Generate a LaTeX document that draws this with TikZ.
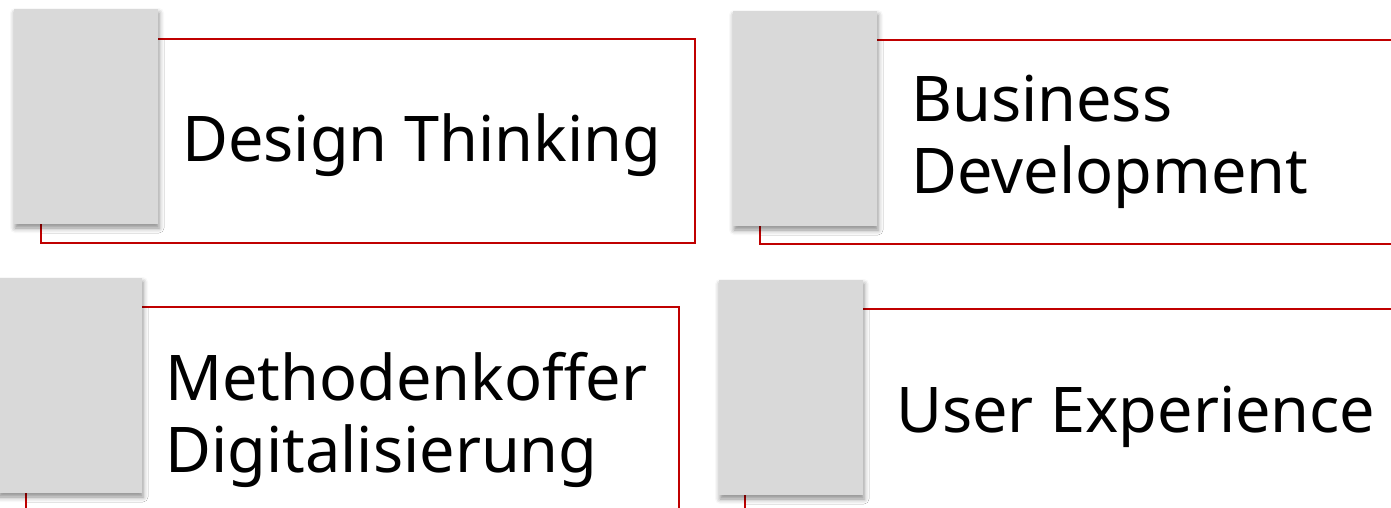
\documentclass[tikz,border=0pt]{standalone}
\usepackage{fontspec}
\setmainfont{Noto Sans}
\usetikzlibrary{shadows.blur}
\definecolor{frame}{HTML}{C00000}
\definecolor{tile}{HTML}{D9D9D9}
\begin{document}
\begin{tikzpicture}[x=1pt,y=-1pt,
  redframe/.style={draw=frame,line width=2.2pt,fill=white},
  tilebox/.style={fill=tile,blur shadow={shadow xshift=1pt,shadow yshift=-4pt,shadow blur radius=5pt,shadow opacity=45}},
  label/.style={anchor=base west,inner sep=0pt,align=left,font=\fontsize{63}{72}\selectfont}]
\useasboundingbox (0,0) rectangle (1391,507);
% frames
\draw[redframe] (41,39) rectangle (695,243);
\draw[redframe] (760,40) rectangle (1410,244);
\draw[redframe] (26,307) rectangle (679,530);
\draw[redframe] (745,309) rectangle (1410,530);
% tiles
\path[tilebox] (14,9) rectangle (158,224);
\path[tilebox] (733,11) rectangle (877,226);
\path[tilebox] (-2,278) rectangle (142,493);
\path[tilebox] (719,280) rectangle (863,495);
% labels
\node[label] (t1) at (182,161) {Design Thinking};
\node[label] (t2) at (911,193) {Business\\Development};
\node[label] (t3) at (165,472) {Methodenkoffer\\Digitalisierung};
\node[label] (t4) at (896,432) {User Experience};
\end{tikzpicture}
\end{document}
